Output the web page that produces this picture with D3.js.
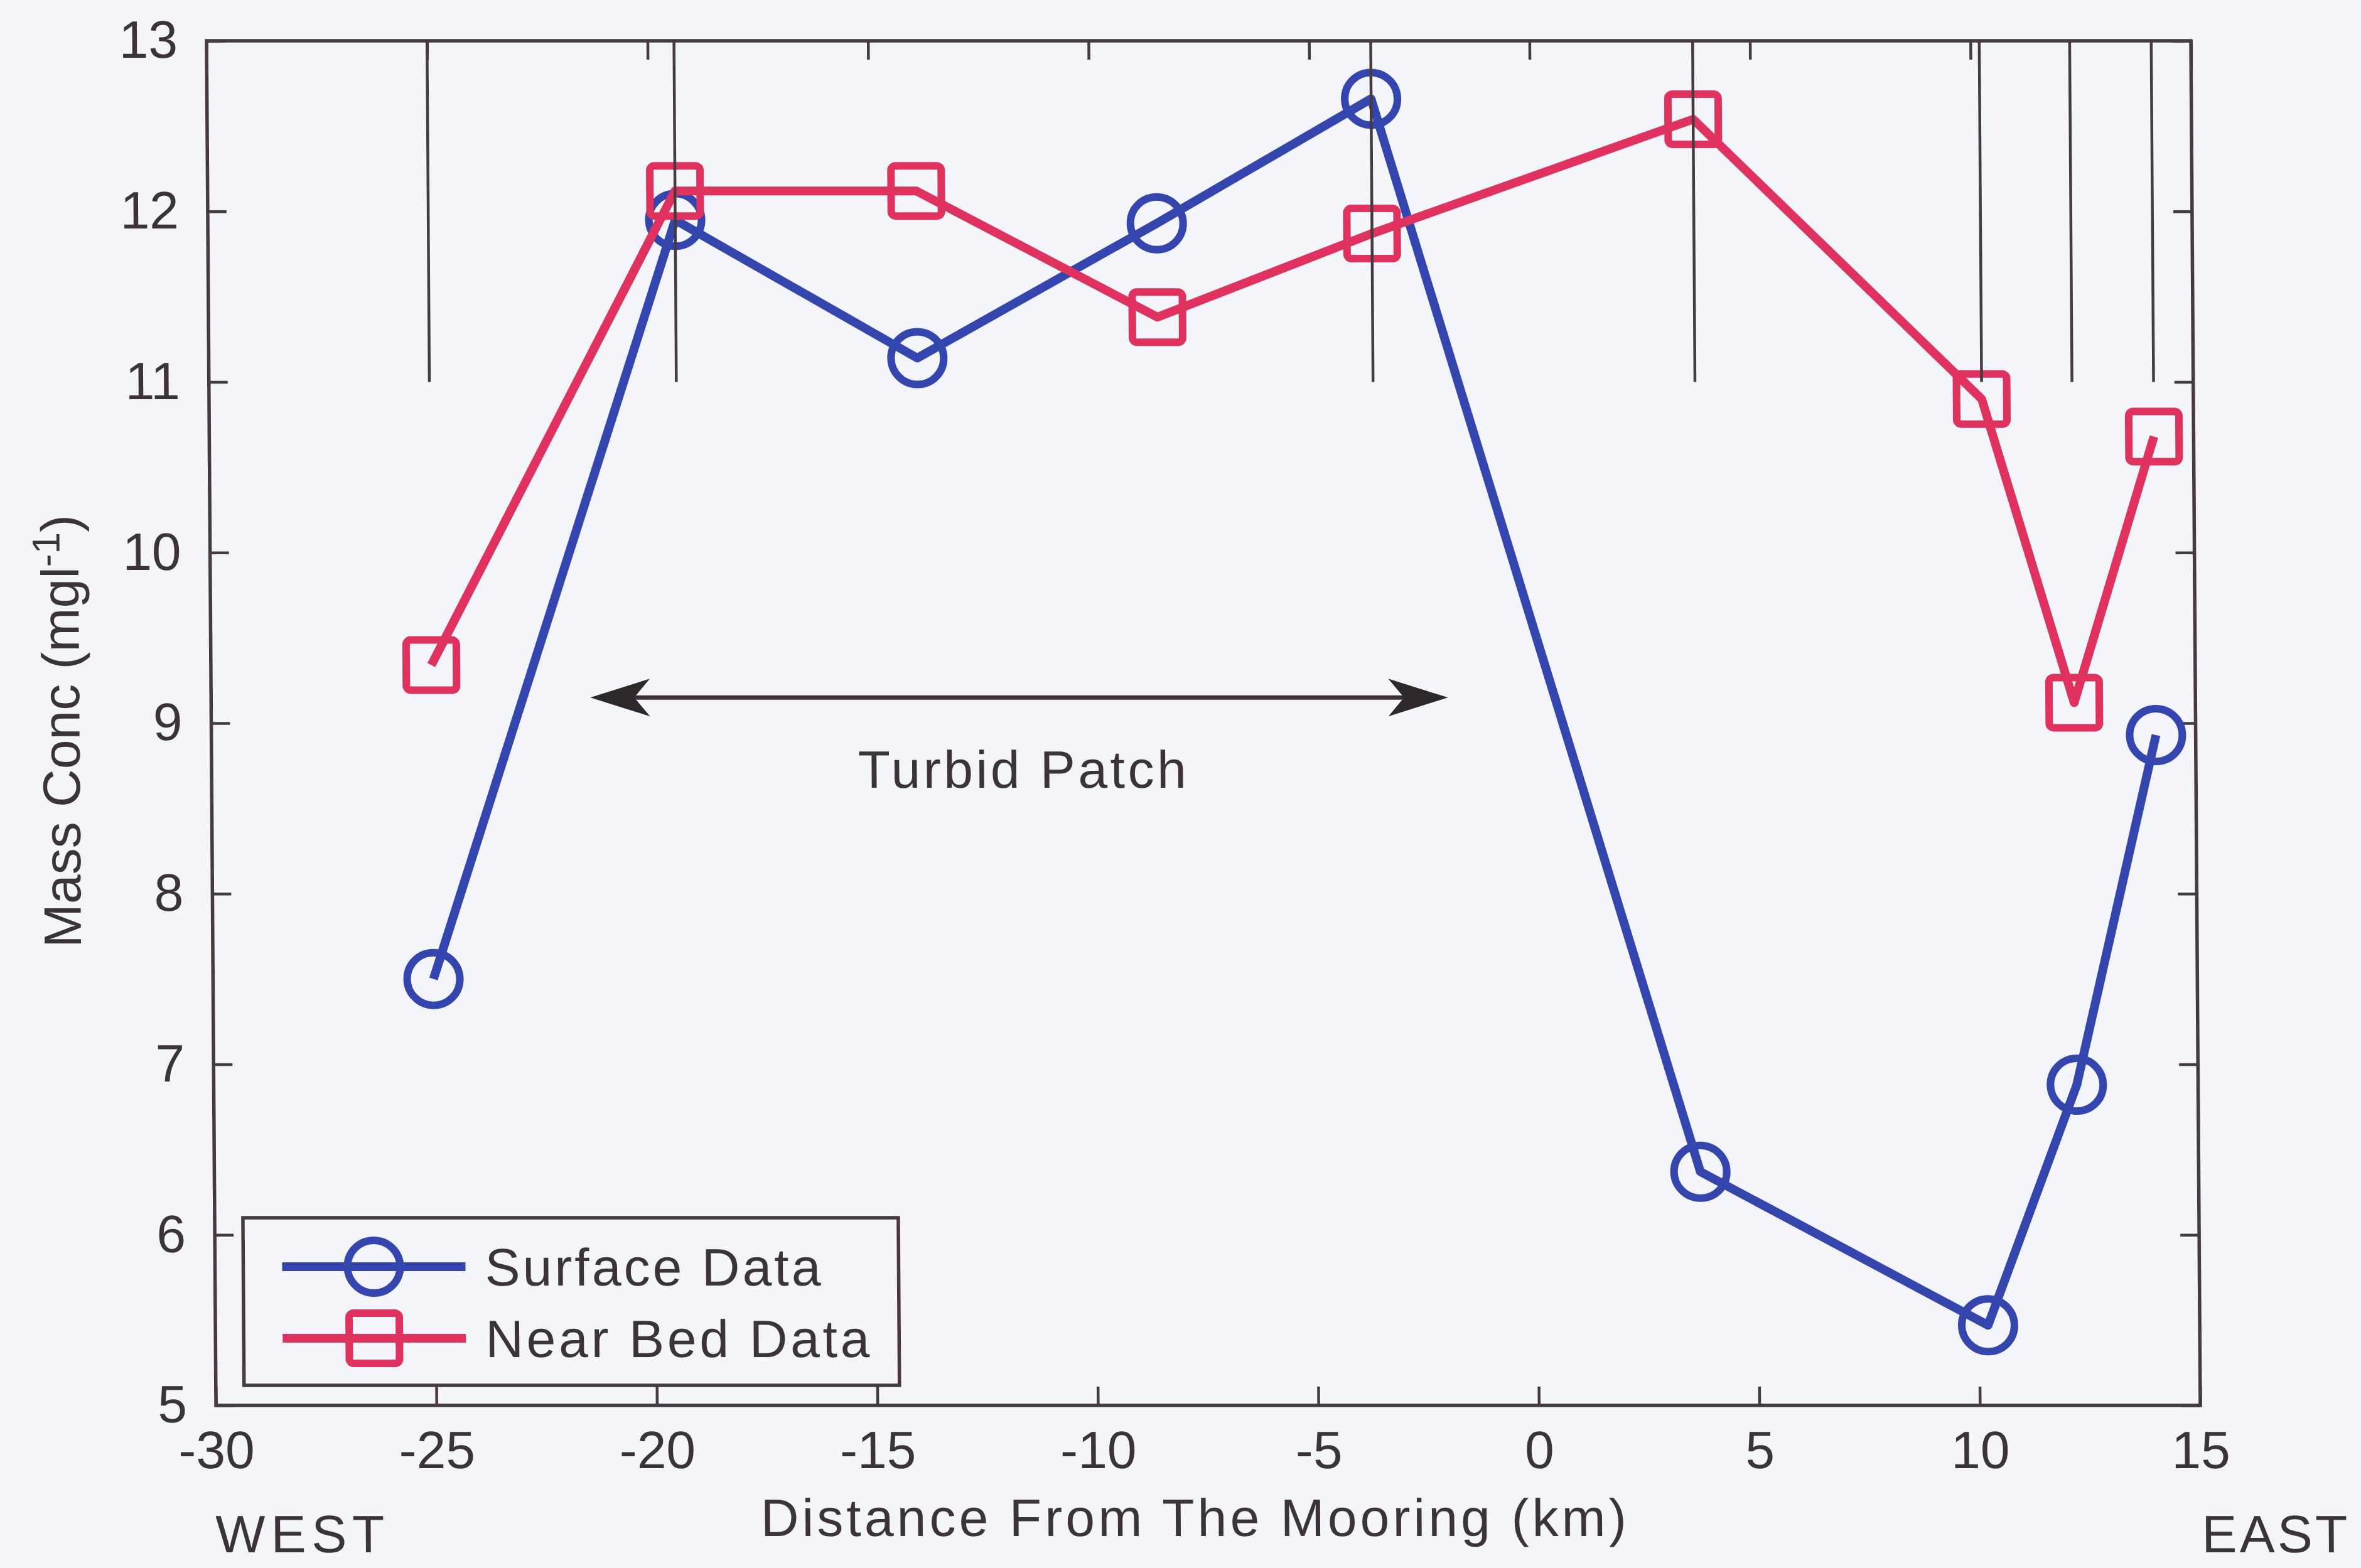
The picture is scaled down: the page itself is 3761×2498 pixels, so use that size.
<!DOCTYPE html>
<html>
<head>
<meta charset="utf-8">
<script src="https://cdn.jsdelivr.net/npm/d3@7"></script>
<style>
  html, body { margin: 0; padding: 0; background: #f3f5fb; }
  svg { display: block; }
  text { font-family: "Liberation Sans", Arial, Helvetica, sans-serif; fill: #3b3337; }
</style>
</head>
<body>
<svg id="chart" width="3761" height="2498"></svg>
<script>
// Distance of each sampling station from the mooring (km, negative = west)
const distances   = [-25.0, -19.4, -13.93, -8.48, -3.6, 3.7, 10.2, 12.25, 14.1];
// Mass concentration (mg/l) at the surface and near the bed
const surfaceData = [7.5, 11.95, 11.14, 11.93, 12.66, 6.37, 5.47, 6.88, 8.93];
const nearBedData = [9.34, 12.12, 12.12, 11.38, 11.87, 12.54, 10.9, 9.12, 10.68];
// Profile stations marked by vertical lines from the top of the axes
const profileStations = [-25.0, -19.4, -3.6, 3.7, 10.2, 12.25, 14.1];
const profileLineBottom = 11;
// Axis ticks
const xTicks = [-30, -25, -20, -15, -10, -5, 0, 5, 10, 15];
const yTicks = [5, 6, 7, 8, 9, 10, 11, 12, 13];
// Extent of the turbid patch (km) and the concentration level of its arrow
const turbidPatch = [-21.4, -1.95];
const turbidArrowLevel = 9.15;
const turbidLabelLevel = 8.62;

const W = 3761, H = 2498;
const frameColor = "#463a3e";
const blue = "#3545ae";
const red = "#e0325e";
const bg = "#f3f5fb";

const svg = d3.select("#chart");
svg.append("rect").attr("width", W).attr("height", H).attr("fill", bg);

const x = d3.scaleLinear().domain([-30, 15]).range([344, 3505]);
const y = d3.scaleLinear().domain([5, 13]).range([2239, 65]);

// The printed page leans slightly: the figure is sheared about the bottom axis
const lean = 0.395;
const root = svg.append("g")
  .attr("transform", `translate(0,${y(5)}) skewX(${lean}) translate(0,${-y(5)})`);

const tickLen = 30;
const fontSize = 84;
const plainNum = d => String(d);   // hyphen-minus, as in the printed labels

// Bottom axis with inward ticks and labels
const gx = root.append("g")
  .attr("transform", `translate(0,${y(5)})`)
  .call(d3.axisBottom(x).tickValues(xTicks).tickFormat(plainNum)
    .tickSizeInner(-tickLen).tickSizeOuter(0).tickPadding(40));
// Left axis
const gy = root.append("g")
  .attr("transform", `translate(${x(-30)},0)`)
  .call(d3.axisLeft(y).tickValues(yTicks).tickFormat(plainNum)
    .tickSizeInner(-tickLen).tickSizeOuter(0).tickPadding(46));
// Mirrored ticks on top and right
const gt = root.append("g")
  .attr("transform", `translate(0,${y(13)})`)
  .call(d3.axisTop(x).tickValues(xTicks).tickSizeInner(-tickLen).tickSizeOuter(0).tickFormat(""));
const gr = root.append("g")
  .attr("transform", `translate(${x(15)},0)`)
  .call(d3.axisRight(y).tickValues(yTicks).tickSizeInner(-tickLen).tickSizeOuter(0).tickFormat(""));

[gx, gy, gt, gr].forEach(g => {
  g.select(".domain").remove();
  g.selectAll(".tick line").attr("stroke", frameColor).attr("stroke-width", 4.5);
  g.selectAll(".tick text")
    .attr("font-size", fontSize)
    .attr("font-family", "Liberation Sans, Arial, sans-serif")
    .attr("fill", "#3b3337");
});

// Series lines and markers
const line = d3.line()
  .x(d => x(d[0]))
  .y(d => y(d[1]));

const surfacePts = distances.map((d, i) => [d, surfaceData[i]]);
const nearBedPts = distances.map((d, i) => [d, nearBedData[i]]);

const lw = 14;
const mw = 12;
const markR = 42;
const markS = 80;

root.append("path").datum(surfacePts)
  .attr("d", line).attr("fill", "none")
  .attr("stroke", blue).attr("stroke-width", lw).attr("stroke-linejoin", "round");
root.append("g").selectAll("circle").data(surfacePts).join("circle")
  .attr("cx", d => x(d[0])).attr("cy", d => y(d[1])).attr("r", markR)
  .attr("fill", "none").attr("stroke", blue).attr("stroke-width", mw);

root.append("path").datum(nearBedPts)
  .attr("d", line).attr("fill", "none")
  .attr("stroke", red).attr("stroke-width", lw).attr("stroke-linejoin", "round");
root.append("g").selectAll("rect").data(nearBedPts).join("rect")
  .attr("x", d => x(d[0]) - markS / 2).attr("y", d => y(d[1]) - markS / 2)
  .attr("width", markS).attr("height", markS).attr("rx", 7)
  .attr("fill", "none").attr("stroke", red).attr("stroke-width", mw);

// Vertical profile lines
root.append("g").selectAll("line").data(profileStations).join("line")
  .attr("x1", d => x(d)).attr("x2", d => x(d))
  .attr("y1", y(13)).attr("y2", y(profileLineBottom))
  .attr("stroke", frameColor).attr("stroke-width", 4.5);

// Axes frame
root.append("rect")
  .attr("x", x(-30)).attr("y", y(13))
  .attr("width", x(15) - x(-30)).attr("height", y(5) - y(13))
  .attr("fill", "none").attr("stroke", frameColor).attr("stroke-width", 5.5);

// Turbid patch arrow
const ay = y(turbidArrowLevel);
const ax0 = x(turbidPatch[0]), ax1 = x(turbidPatch[1]);
root.append("line")
  .attr("x1", ax0 + 20).attr("x2", ax1 - 20).attr("y1", ay).attr("y2", ay)
  .attr("stroke", "#3b3337").attr("stroke-width", 7);
function head(tipX, dir) {
  const L = 95, N = 70, hw = 30;
  return `M${tipX},${ay} L${tipX + dir * L},${ay - hw} L${tipX + dir * N},${ay} L${tipX + dir * L},${ay + hw} Z`;
}
root.append("path").attr("d", head(ax0, 1)).attr("fill", "#2f282b");
root.append("path").attr("d", head(ax1, -1)).attr("fill", "#2f282b");
root.append("text")
  .attr("x", (ax0 + ax1) / 2 + 4).attr("y", y(turbidLabelLevel))
  .attr("text-anchor", "middle").attr("font-size", fontSize)
  .attr("textLength", 523).attr("lengthAdjust", "spacing")
  .text("Turbid Patch");

// Axis titles
root.append("text")
  .attr("x", 1900).attr("y", 2447)
  .attr("text-anchor", "middle").attr("font-size", fontSize)
  .attr("textLength", 1379).attr("lengthAdjust", "spacing")
  .text("Distance From The Mooring (km)");

const yl = root.append("text")
  .attr("transform", "translate(134,1165) rotate(-90)")
  .attr("text-anchor", "middle").attr("font-size", fontSize);
yl.append("tspan").text("Mass Conc (mgl");
yl.append("tspan").attr("font-size", 62).attr("dy", -30).text("-1");
yl.append("tspan").attr("dy", 30).text(")");

root.append("text").attr("x", 342).attr("y", 2473).attr("font-size", fontSize)
  .attr("textLength", 269).attr("lengthAdjust", "spacing").text("WEST");
root.append("text").attr("x", 3506).attr("y", 2473).attr("font-size", fontSize)
  .attr("textLength", 232).attr("lengthAdjust", "spacing").text("EAST");

// Legend
const lg = root.append("g");
lg.append("rect")
  .attr("x", 389).attr("y", 1940).attr("width", 1044).attr("height", 267)
  .attr("fill", bg).attr("stroke", frameColor).attr("stroke-width", 5.5);
const legendItems = [
  { label: "Surface Data", color: blue, shape: "circle", cy: 2018, len: 535 },
  { label: "Near Bed Data", color: red, shape: "square", cy: 2132, len: 612 }
];
legendItems.forEach(it => {
  lg.append("line").attr("x1", 451).attr("x2", 743).attr("y1", it.cy).attr("y2", it.cy)
    .attr("stroke", it.color).attr("stroke-width", lw);
  if (it.shape === "circle") {
    lg.append("circle").attr("cx", 597).attr("cy", it.cy).attr("r", markR)
      .attr("fill", "none").attr("stroke", it.color).attr("stroke-width", mw);
  } else {
    lg.append("rect").attr("x", 597 - markS / 2).attr("y", it.cy - markS / 2)
      .attr("width", markS).attr("height", markS).attr("rx", 7)
      .attr("fill", "none").attr("stroke", it.color).attr("stroke-width", mw);
  }
  lg.append("text").attr("x", 774).attr("y", it.cy + 30).attr("font-size", fontSize)
    .attr("textLength", it.len).attr("lengthAdjust", "spacing").text(it.label);
});
</script>
</body>
</html>
